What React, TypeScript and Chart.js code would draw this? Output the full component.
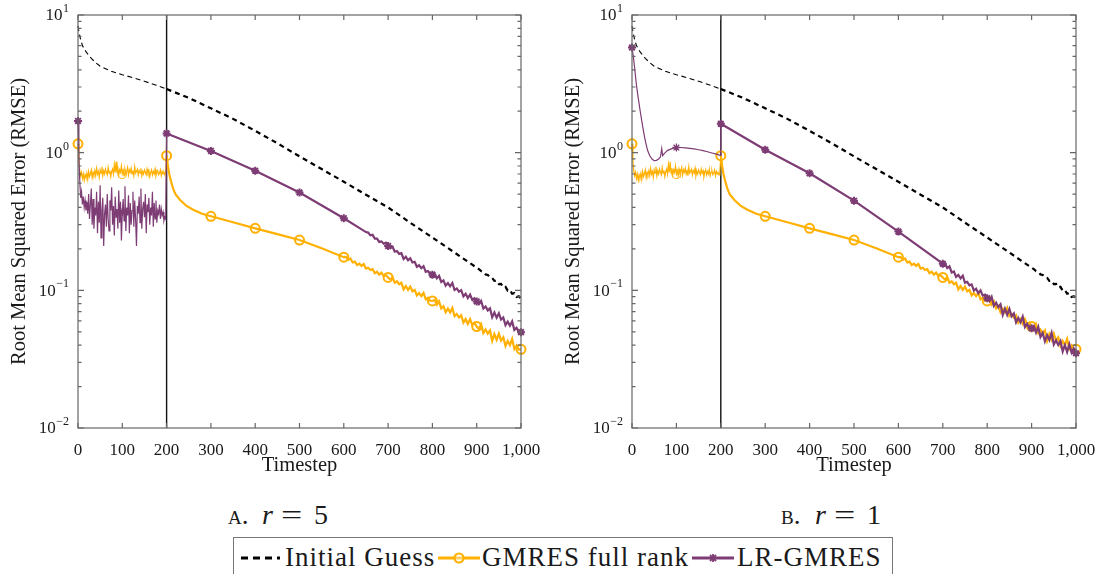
import React, { useEffect, useRef } from 'react';
import { Chart, registerables } from 'chart.js';

Chart.register(...registerables);

const FONT = '"Liberation Serif", "DejaVu Serif", serif';
const ORANGE = '#FFB000';
const PURPLE = '#7D3C74';
const TEXT = '#1a1a1a';

// ---------- data ----------
const SPLIT_T = 200;
const MARK_EVERY = 100;
const xTickValues = [0, 100, 200, 300, 400, 500, 600, 700, 800, 900, 1000];
const yDecades = [0.01, 0.1, 1, 10];
const yExponents = ['\u22122', '\u22121', '0', '1'];

// Initial Guess (shared by both panels)
const igT = [0, 3, 6, 10, 15, 20, 30, 40, 50, 75, 100, 125, 150, 175, 200, 250, 300, 350, 400, 450, 500, 550, 600, 650, 700, 750, 800, 850, 900];
const igV = [8.3, 7.3, 6.6, 6.0, 5.6, 5.3, 4.85, 4.5, 4.25, 3.9, 3.68, 3.5, 3.3, 3.1, 2.9, 2.5, 2.1, 1.76, 1.44, 1.17, 0.94, 0.76, 0.615, 0.495, 0.4, 0.31, 0.242, 0.188, 0.146];
const igTailStart = 905;
const igTailStep = 5;
const igTailV = [0.1425, 0.138, 0.136, 0.1305, 0.1295, 0.124, 0.123, 0.117, 0.1175, 0.111, 0.1115, 0.105, 0.106, 0.0995, 0.1005, 0.0945, 0.0955, 0.0895, 0.0905, 0.087];

// GMRES full rank (shared by both panels)
const gmresPreStep = 2;
const gmresPreV = [
  1.16, 0.86, 0.74, 0.68, 0.72, 0.65, 0.70, 0.63, 0.69, 0.66,
  0.71, 0.64, 0.73, 0.67, 0.70, 0.75, 0.66, 0.72, 0.69, 0.74,
  0.68, 0.77, 0.70, 0.73, 0.66, 0.75, 0.71, 0.79, 0.68, 0.74,
  0.70, 0.76, 0.72, 0.69, 0.78, 0.71, 0.74, 0.67, 0.73, 0.76,
  0.70, 0.82, 0.72, 0.86, 0.71, 0.77, 0.69, 0.75, 0.72, 0.80,
  0.70, 0.74, 0.68, 0.76, 0.71, 0.73, 0.78, 0.69, 0.75, 0.72,
  0.77, 0.70, 0.74, 0.68, 0.79, 0.71, 0.73, 0.76, 0.69, 0.74,
  0.71, 0.77, 0.68, 0.73, 0.70, 0.75, 0.72, 0.69, 0.76, 0.71,
  0.74, 0.67, 0.72, 0.75, 0.69, 0.73, 0.70, 0.76, 0.68, 0.72,
  0.74, 0.69, 0.71, 0.75, 0.68, 0.73, 0.70, 0.72, 0.69, 0.74,
];
const gmresPostT = [200, 203, 206, 210, 215, 220, 230, 245, 260, 280, 300, 350, 400, 450, 500, 550, 600];
const gmresPostV = [0.95, 0.8, 0.7, 0.62, 0.545, 0.5, 0.455, 0.41, 0.385, 0.36, 0.345, 0.312, 0.282, 0.256, 0.232, 0.202, 0.174];
const gmresTailStart = 605;
const gmresTailStep = 5;
const gmresTailV = [
  0.1745, 0.1665, 0.1704, 0.1593, 0.1615, 0.1525, 0.1561, 0.1505, 0.1554, 0.144, 0.1458, 0.1406, 0.1424, 0.1332, 0.1364, 0.13, 0.1344, 0.127, 0.1286, 0.124,
  0.1198, 0.1246, 0.1134, 0.1163, 0.1107, 0.1135, 0.1015, 0.1075, 0.1008, 0.1064, 0.0984, 0.1008, 0.0917, 0.0955, 0.0909, 0.0959, 0.086, 0.0883, 0.084, 0.0837,
  0.0852, 0.0786, 0.0832, 0.0738, 0.0767, 0.0692, 0.0735, 0.0691, 0.0745, 0.0649, 0.0674, 0.0635, 0.0659, 0.0583, 0.0619, 0.057, 0.0617, 0.0559, 0.058, 0.0546,
  0.0523, 0.0565, 0.049, 0.0519, 0.0484, 0.0511, 0.043, 0.0481, 0.0437, 0.0485, 0.0432, 0.0456, 0.0394, 0.0428, 0.04, 0.0443, 0.0375, 0.0398, 0.0371, 0.0373,
];

// LR-GMRES, r = 5
const lrR5PreStep = 2;
const lrR5PreV = [
  1.70, 0.95, 0.62, 0.47, 0.52, 0.42, 0.48, 0.40, 0.45, 0.38,
  0.44, 0.36, 0.50, 0.33, 0.42, 0.55, 0.30, 0.46, 0.28, 0.40,
  0.35, 0.52, 0.26, 0.44, 0.31, 0.58, 0.24, 0.38, 0.47, 0.21,
  0.36, 0.42, 0.29, 0.50, 0.33, 0.27, 0.45, 0.38, 0.56, 0.30,
  0.41, 0.25, 0.48, 0.34, 0.39, 0.28, 0.53, 0.31, 0.44, 0.23,
  0.37, 0.46, 0.32, 0.57, 0.27, 0.40, 0.35, 0.49, 0.26, 0.43,
  0.30, 0.38, 0.52, 0.29, 0.45, 0.33, 0.21, 0.41, 0.36, 0.48,
  0.31, 0.55, 0.28, 0.39, 0.44, 0.34, 0.50, 0.26, 0.42, 0.37,
  0.47, 0.30, 0.40, 0.35, 0.52, 0.29, 0.43, 0.33, 0.45, 0.31,
  0.38, 0.36, 0.42, 0.33, 0.39, 0.35, 0.37, 0.32, 0.34, 0.33,
];
const lrR5PostT = [200, 300, 400, 500, 600, 650];
const lrR5PostV = [1.38, 1.03, 0.74, 0.513, 0.334, 0.265];
const lrR5TailStart = 655;
const lrR5TailStep = 5;
const lrR5TailV = [
  0.2628, 0.2508, 0.2529, 0.2374, 0.2376, 0.2248, 0.2268, 0.218, 0.2217, 0.21,
  0.2025, 0.2074, 0.1907, 0.1931, 0.1841, 0.1863, 0.1691, 0.1754, 0.1651, 0.1711, 0.1594, 0.1613, 0.1483, 0.1519, 0.1448, 0.15, 0.1363, 0.138, 0.1316, 0.13,
  0.1312, 0.1223, 0.1274, 0.1151, 0.1181, 0.1082, 0.1129, 0.107, 0.1131, 0.1006, 0.1032, 0.0977, 0.1002, 0.0904, 0.0944, 0.0879, 0.0931, 0.0854, 0.0876, 0.083,
  0.0793, 0.0836, 0.0738, 0.0764, 0.0715, 0.074, 0.0638, 0.069, 0.0633, 0.0682, 0.0613, 0.0635, 0.0559, 0.0592, 0.0554, 0.0595, 0.0516, 0.0534, 0.05, 0.0497,
];

// LR-GMRES, r = 1
const lrR1PreT = [0, 3, 6, 10, 14, 18, 22, 26, 30, 35, 40, 45, 50, 55, 60, 64, 67, 69, 72, 76, 80, 90, 100, 110, 120, 130, 140, 150, 160, 170, 180, 190, 199];
const lrR1PreV = [5.8, 5.0, 4.1, 3.1, 2.5, 2.05, 1.7, 1.42, 1.22, 1.04, 0.95, 0.9, 0.875, 0.88, 0.9, 0.93, 1.07, 0.95, 0.98, 1.01, 1.04, 1.07, 1.09, 1.09, 1.085, 1.075, 1.065, 1.05, 1.035, 1.015, 0.995, 0.975, 0.955];
const lrR1PostT = [200, 300, 400, 500, 600, 700];
const lrR1PostV = [1.62, 1.05, 0.708, 0.448, 0.267, 0.156];
const lrR1TailStart = 705;
const lrR1TailStep = 5;
const lrR1TailV = [
  0.1561, 0.1451, 0.1495, 0.1348, 0.1371, 0.1253, 0.1294, 0.122, 0.1276, 0.1134, 0.1153, 0.1087, 0.1105, 0.0995, 0.1027, 0.0954, 0.0999, 0.0915, 0.0929, 0.0877,
  0.0834, 0.0897, 0.0772, 0.0813, 0.0754, 0.0792, 0.0662, 0.0735, 0.0664, 0.0733, 0.0648, 0.068, 0.0585, 0.0631, 0.0586, 0.0645, 0.0542, 0.0571, 0.0529, 0.053,
  0.055, 0.0493, 0.0543, 0.0459, 0.0491, 0.0426, 0.0472, 0.0436, 0.0492, 0.0404, 0.0434, 0.0401, 0.0428, 0.036, 0.04, 0.0357, 0.0405, 0.0353, 0.0378, 0.0349,
];

const legendLabels = ['Initial Guess', 'GMRES full rank', 'LR-GMRES'];

// ---------- helpers ----------
type Pt = { x: number; y: number };
const zip = (t: number[], v: number[]): Pt[] => t.map((x, i) => ({ x, y: v[i] }));
const stepped = (start: number, step: number, v: number[]): Pt[] => v.map((y, i) => ({ x: start + i * step, y }));

const igAll = zip(igT, igV).concat(stepped(igTailStart, igTailStep, igTailV));
const igPre = igAll.filter((p) => p.x <= SPLIT_T);
const igPost = igAll.filter((p) => p.x >= SPLIT_T);
const gPre = stepped(0, gmresPreStep, gmresPreV).concat([{ x: SPLIT_T, y: gmresPostV[0] }]);
const gPost = zip(gmresPostT, gmresPostV).concat(stepped(gmresTailStart, gmresTailStep, gmresTailV));

const panelA = {
  lrPre: stepped(0, lrR5PreStep, lrR5PreV).concat([{ x: SPLIT_T, y: lrR5PostV[0] }]),
  lrPost: zip(lrR5PostT, lrR5PostV).concat(stepped(lrR5TailStart, lrR5TailStep, lrR5TailV)),
};
const panelB = {
  lrPre: zip(lrR1PreT, lrR1PreV).concat([{ x: SPLIT_T, y: lrR1PostV[0] }]),
  lrPost: zip(lrR1PostT, lrR1PostV).concat(stepped(lrR1TailStart, lrR1TailStep, lrR1TailV)),
};

const isMark = (ctx: any) => ctx.raw && ctx.raw.x % MARK_EVERY === 0;

const axisDeco = {
  id: 'axisDeco',
  beforeDatasetsDraw(chart: any) {
    const { ctx, chartArea: a } = chart;
    const px = chart.scales.x.getPixelForValue(SPLIT_T);
    ctx.save();
    ctx.strokeStyle = '#111';
    ctx.lineWidth = 1.4;
    ctx.beginPath();
    ctx.moveTo(px, a.top);
    ctx.lineTo(px, a.bottom);
    ctx.stroke();
    ctx.restore();
  },
  afterDatasetsDraw(chart: any) {
    const { ctx, chartArea: a } = chart;
    const x = chart.scales.x;
    const y = chart.scales.y;
    ctx.save();
    ctx.strokeStyle = '#666';
    ctx.lineWidth = 1.2;
    ctx.strokeRect(a.left, a.top, a.right - a.left, a.bottom - a.top);
    ctx.beginPath();
    for (const t of xTickValues) {
      const px = x.getPixelForValue(t);
      ctx.moveTo(px, a.bottom);
      ctx.lineTo(px, a.bottom - 5);
      ctx.moveTo(px, a.top);
      ctx.lineTo(px, a.top + 5);
    }
    yDecades.forEach((d, i) => {
      const py = y.getPixelForValue(d);
      ctx.moveTo(a.left, py);
      ctx.lineTo(a.left + 6, py);
      ctx.moveTo(a.right, py);
      ctx.lineTo(a.right - 6, py);
      if (i < yDecades.length - 1) {
        for (let m = 2; m <= 9; m++) {
          const pm = y.getPixelForValue(m * d);
          ctx.moveTo(a.left, pm);
          ctx.lineTo(a.left + 3.5, pm);
          ctx.moveTo(a.right, pm);
          ctx.lineTo(a.right - 3.5, pm);
        }
      }
    });
    ctx.stroke();
    // y tick labels with superscript exponents
    ctx.fillStyle = TEXT;
    ctx.textBaseline = 'middle';
    yDecades.forEach((d, i) => {
      const py = y.getPixelForValue(d);
      const right = a.left - 9;
      ctx.font = `12px ${FONT}`;
      const ew = ctx.measureText(yExponents[i]).width;
      ctx.textAlign = 'left';
      ctx.fillText(yExponents[i], right - ew, py - 6);
      ctx.font = `17px ${FONT}`;
      ctx.textAlign = 'right';
      ctx.fillText('10', right - ew - 0.5, py + 1);
    });
    ctx.restore();
  },
};

function makeConfig(lrPre: Pt[], lrPost: Pt[], rightPad: number): any {
  return {
    type: 'line',
    data: {
      datasets: [
        {
          label: legendLabels[2], data: lrPost, borderColor: PURPLE, borderWidth: 2.2,
          pointStyle: 'star', pointRadius: (c: any) => (isMark(c) ? 4 : 0), pointBorderWidth: 2,
          pointBorderColor: PURPLE, pointBackgroundColor: PURPLE, tension: 0, clip: false,
        },
        {
          label: legendLabels[2], data: lrPre, borderColor: PURPLE, borderWidth: 1.2,
          pointStyle: 'star', pointRadius: (c: any) => (isMark(c) && c.raw.x < SPLIT_T ? 4 : 0),
          pointBorderWidth: (c: any) => (c.raw && c.raw.x === 0 ? 2 : 1.3),
          pointBorderColor: PURPLE, pointBackgroundColor: PURPLE, tension: 0, clip: false,
        },
        {
          label: legendLabels[1], data: gPost, borderColor: ORANGE, borderWidth: 2.2,
          pointStyle: 'circle', pointRadius: (c: any) => (isMark(c) ? 4.5 : 0), pointBorderWidth: 2,
          pointBorderColor: ORANGE, pointBackgroundColor: 'rgba(255,255,255,0)', tension: 0, clip: false,
        },
        {
          label: legendLabels[1], data: gPre, borderColor: ORANGE, borderWidth: 1.2,
          pointStyle: 'circle', pointRadius: (c: any) => (isMark(c) && c.raw.x < SPLIT_T ? 4.5 : 0),
          pointBorderWidth: (c: any) => (c.raw && c.raw.x === 0 ? 2 : 1),
          pointBorderColor: ORANGE, pointBackgroundColor: 'rgba(255,255,255,0)', tension: 0, clip: false,
        },
        {
          label: legendLabels[0], data: igPost, borderColor: '#000', borderWidth: 2.2, borderDash: [5, 4],
          pointRadius: 0, tension: 0, clip: false,
        },
        {
          label: legendLabels[0], data: igPre, borderColor: '#000', borderWidth: 1.1, borderDash: [5, 3.5],
          pointRadius: 0, tension: 0, clip: false,
        },
      ],
    },
    options: {
      animation: false,
      responsive: false,
      maintainAspectRatio: false,
      events: [],
      layout: { padding: { left: 0, right: rightPad, top: 15, bottom: 0 } },
      plugins: { legend: { display: false }, tooltip: { enabled: false } },
      scales: {
        x: {
          type: 'linear', min: 0, max: 1000,
          grid: { display: false }, border: { display: false },
          afterBuildTicks: (s: any) => { s.ticks = xTickValues.map((v) => ({ value: v })); },
          ticks: {
            autoSkip: false, maxRotation: 0, padding: 4, color: TEXT,
            font: { family: FONT, size: 17 },
            callback: (v: any) => Number(v).toLocaleString('en-US'),
          },
          title: { display: true, text: 'Timestep', color: TEXT, font: { family: FONT, size: 20.5 }, padding: { top: 0, bottom: 2 } },
          afterFit: (s: any) => { s.height = 52; },
        },
        y: {
          type: 'logarithmic', min: 0.01, max: 10,
          grid: { display: false }, border: { display: false },
          afterBuildTicks: (s: any) => { s.ticks = yDecades.map((v) => ({ value: v })); },
          ticks: { display: false },
          title: { display: true, text: 'Root Mean Squared Error (RMSE)', color: TEXT, font: { family: FONT, size: 20.5 }, padding: { top: 7, bottom: 0 } },
          afterFit: (s: any) => { s.width = 78; },
        },
      },
    },
    plugins: [axisDeco],
  };
}

function Panel({ left, lrPre, lrPost, rightPad }: { left: number; lrPre: Pt[]; lrPost: Pt[]; rightPad: number }) {
  const ref = useRef<HTMLCanvasElement>(null);
  useEffect(() => {
    const chart = new Chart(ref.current as HTMLCanvasElement, makeConfig(lrPre, lrPost, rightPad));
    return () => chart.destroy();
  }, []);
  return <canvas ref={ref} width={550} height={480} style={{ position: 'absolute', left, top: 0, width: 550, height: 480 }} />;
}

function Caption({ left, letter, value }: { left: number; letter: string; value: string }) {
  const base: React.CSSProperties = { position: 'absolute', top: 0, fontSize: 28, lineHeight: '30px', whiteSpace: 'pre', color: TEXT, fontFamily: FONT };
  return (
    <div style={{ position: 'absolute', left, top: 500, width: 120, height: 30 }}>
      <span style={{ ...base, left: 2, fontSize: 27, top: 0, fontVariant: 'small-caps' }}>{letter}.</span>
      <span style={{ ...base, left: 36, fontStyle: 'italic' }}>r</span>
      <span style={{ ...base, left: 55, display: 'inline-block', transform: 'scaleX(1.35)', transformOrigin: 'left center' }}>=</span>
      <span style={{ ...base, left: 88 }}>{value}</span>
    </div>
  );
}

export default function App() {
  const textStyle: React.CSSProperties = { position: 'absolute', top: 4, fontSize: 27, lineHeight: '30px', letterSpacing: 1, whiteSpace: 'nowrap', color: TEXT, fontFamily: FONT };
  return (
    <div style={{ position: 'fixed', left: 0, top: 0, width: 1108, height: 574, overflow: 'hidden', background: '#fff', fontFamily: FONT }}>
      <Panel left={0} lrPre={panelA.lrPre} lrPost={panelA.lrPost} rightPad={29} />
      <Panel left={554} lrPre={panelB.lrPre} lrPost={panelB.lrPost} rightPad={28} />
      <Caption left={226} letter="a" value="5" />
      <Caption left={779} letter="b" value="1" />
      <div style={{ position: 'absolute', left: 233, top: 537, width: 660, height: 60, border: '1px solid #777', boxSizing: 'border-box' }}>
        <svg style={{ position: 'absolute', left: 6, top: 12 }} width={42} height={16}>
          <line x1={1} y1={8} x2={40} y2={8} stroke="#000" strokeWidth={3} strokeDasharray="7 5" />
        </svg>
        <span style={{ ...textStyle, left: 51 }}>{legendLabels[0]}</span>
        <svg style={{ position: 'absolute', left: 204, top: 10 }} width={42} height={20}>
          <line x1={0} y1={10} x2={42} y2={10} stroke={ORANGE} strokeWidth={3} />
          <circle cx={21} cy={10} r={4.5} stroke={ORANGE} strokeWidth={2.2} fill="#fff" fillOpacity={0.4} />
        </svg>
        <span style={{ ...textStyle, left: 248 }}>{legendLabels[1]}</span>
        <svg style={{ position: 'absolute', left: 458, top: 10 }} width={42} height={20}>
          <line x1={0} y1={10} x2={42} y2={10} stroke={PURPLE} strokeWidth={3} />
          <path d="M17 10 L25 10 M21 6 L21 14 M18 7 L24 13 M24 7 L18 13" stroke={PURPLE} strokeWidth={1.8} />
        </svg>
        <span style={{ ...textStyle, left: 503 }}>{legendLabels[2]}</span>
      </div>
    </div>
  );
}
